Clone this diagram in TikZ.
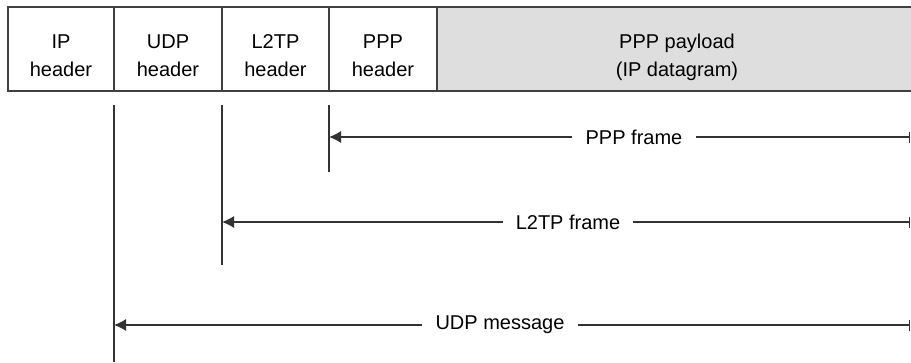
\documentclass[tikz,border=0pt]{standalone}
\usepackage{fontspec}
\setmainfont{Liberation Sans}
\usetikzlibrary{arrows.meta}
\begin{document}
\begin{tikzpicture}[x=1pt,y=-1pt,
			cell/.style={
				rectangle,
				draw=black!75,
				line width=1.4pt,
				align=center,
				minimum height=84pt,
				inner sep=0pt,
				font=\fontsize{20}{28}\selectfont,
				text height=54pt,
				text depth=0pt,
			},
			ArrowC1/.style={% thin frame lines
				line width=1.2pt,
				draw=black!80,
			},
			framelbl/.style={
				fill=white,
				inner xsep=13pt,
				font=\fontsize{20}{24}\selectfont,
			},
			]
				\useasboundingbox (0,0) rectangle (911,362);
				% headers
				\node[cell, minimum width=106pt] (ip) at (61,49) {IP\\header};
				\node[cell, minimum width=108pt] (udp) at (168,49) {UDP\\header};
				\node[cell, minimum width=107pt] (l2tp) at (275.5,49) {L2TP\\header};
				\node[cell, minimum width=108pt] (ppph) at (383,49) {PPP\\header};
				\node[cell, fill=black!13, minimum width=480pt] (pay) at (677,49) {PPP payload\\(IP datagram)};
				
				% boundaries
				\coordinate (udpT) at (114,105);
				\coordinate (udpB) at (114,362);
				\coordinate (l2tpT) at (222,105);
				\coordinate (l2tpB) at (222,265);
				\coordinate (pppT) at (329,105);
				\coordinate (pppB) at (329,172);
				\draw[ArrowC1] (udpT) -- (udpB);
				\draw[ArrowC1] (l2tpT) -- (l2tpB);
				\draw[ArrowC1] (pppT) -- (pppB);
				
				% frames
				\coordinate (pppL) at (329,137);
				\coordinate (pppR) at (910,137);
				\coordinate (l2tpL) at (222,222);
				\coordinate (l2tpR) at (910,222);
				\coordinate (udpL) at (114,325);
				\coordinate (udpR) at (910,325);
				\node[framelbl] (pppf) at (634,137) {PPP frame};
				\node[framelbl] (l2tpf) at (568,222) {L2TP frame};
				\node[framelbl] (udpm) at (500,325) {UDP message};
				
				\draw[-{Latex[length=12pt,width=12pt]},ArrowC1] (pppf) -- (pppL);
				\draw[-{Bar[width=11pt]},ArrowC1] (pppf) -- (pppR);
				\draw[-{Latex[length=12pt,width=12pt]},ArrowC1] (l2tpf) -- (l2tpL);
				\draw[-{Bar[width=11pt]},ArrowC1] (l2tpf) -- (l2tpR);
				\draw[-{Latex[length=12pt,width=12pt]},ArrowC1] (udpm) -- (udpL);
				\draw[-{Bar[width=11pt]},ArrowC1] (udpm) -- (udpR);
			\end{tikzpicture}
\end{document}
